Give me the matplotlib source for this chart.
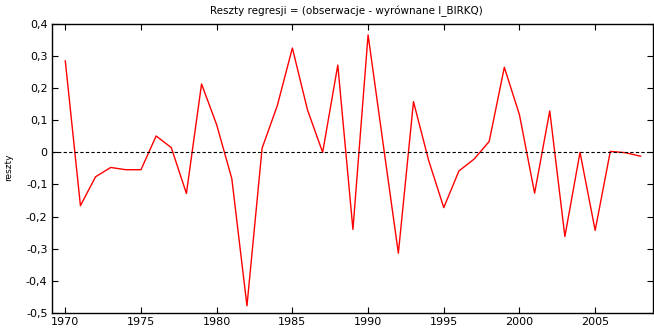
"""Reszty regresji: wykres reszt w czasie (styl gretl/gnuplot)."""

import matplotlib
matplotlib.use("Agg")
import matplotlib.pyplot as plt
from matplotlib.ticker import FuncFormatter

years = list(range(1970, 2009))
residuals = [
    0.285, -0.166, -0.076, -0.047, -0.054, -0.054, 0.051, 0.015, -0.128, 0.213,
    0.086, -0.082, -0.478, 0.013, 0.145, 0.325, 0.132, 0.000, 0.272, -0.240,
    0.366, 0.025, -0.314, 0.158, -0.025, -0.172, -0.058, -0.021, 0.034, 0.265,
    0.117, -0.127, 0.129, -0.262, 0.000, -0.243, 0.003, -0.001, -0.012,
]
x_ticks = [1970, 1975, 1980, 1985, 1990, 1995, 2000, 2005]
y_ticks = [-0.5, -0.4, -0.3, -0.2, -0.1, 0.0, 0.1, 0.2, 0.3, 0.4]

title = "Reszty regresji = (obserwacje - wyrównane l_BIRKQ)"
y_label = "reszty"


def pl_num(v, _pos=None):
    if abs(v) < 1e-9:
        return "0"
    return f"{v:.1f}".replace(".", ",")


fig = plt.figure(figsize=(6.54, 3.28), dpi=100)
ax = fig.add_axes([0.079, 0.046, 0.919, 0.881])

ax.plot(years, residuals, color="#ff0000", lw=1.0)
ax.axhline(0, color="black", lw=0.8, ls=(0, (3, 2)))

ax.set_xlim(1969.1, 2008.8)
ax.set_ylim(-0.5, 0.4)
ax.set_xticks(x_ticks)
ax.set_yticks(y_ticks)
ax.yaxis.set_major_formatter(FuncFormatter(pl_num))
ax.tick_params(direction="in", length=4, width=0.8, labelsize=8,
               top=True, right=True, colors="black", pad=3)
for s in ax.spines.values():
    s.set_linewidth(1.0)

fig.text(9 / 654, 1 - 167 / 328, y_label, rotation=90, ha="center",
         va="center", fontsize=6.5)
fig.text(0.53, 0.965, title, ha="center", va="center", fontsize=7.5)

fig.savefig("out.png", dpi=100)
